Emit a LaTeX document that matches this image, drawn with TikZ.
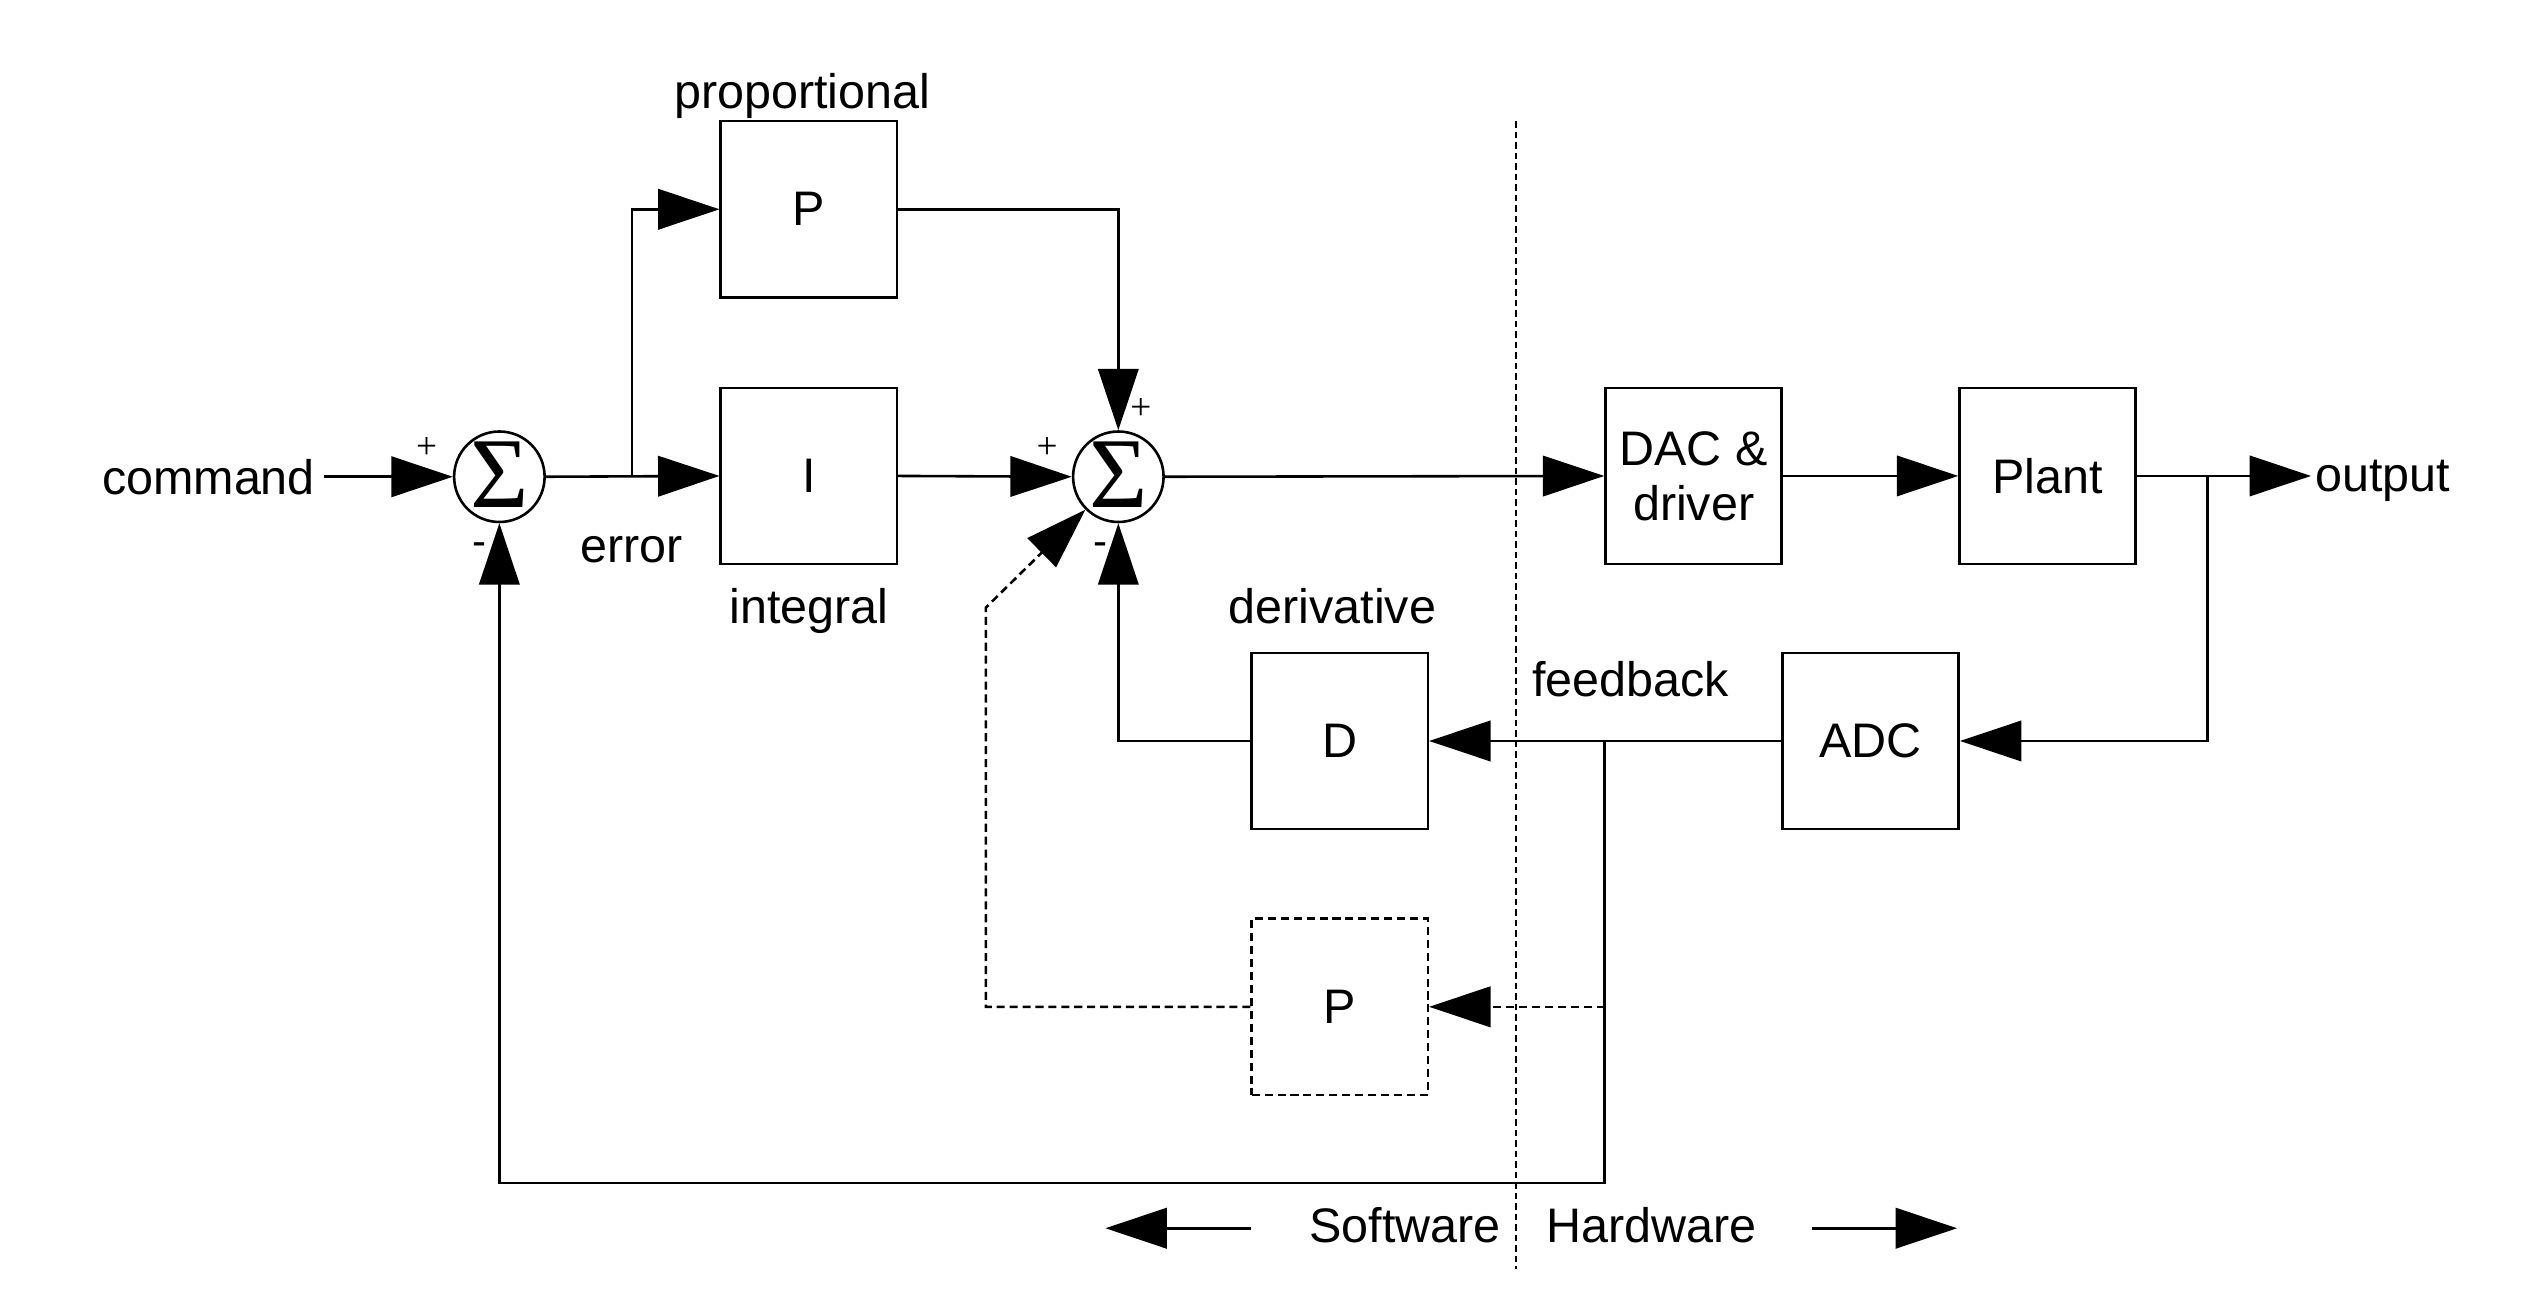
\documentclass[tikz,border=0pt]{standalone}
\usepackage{fontspec}
\setmainfont{Liberation Sans}
\newfontfamily\serifsym{Liberation Serif}
\usetikzlibrary{arrows.meta}
\begin{document}
\begin{tikzpicture}[x=1pt,y=-1pt, line width=1.6pt,
  every node/.style={font=\fontsize{30}{34}\selectfont, inner sep=0pt},
  blk/.style={draw, minimum width=109pt, minimum height=109pt},
  sumnode/.style={draw, circle, minimum size=56pt},
  sigma/.style={font=\serifsym\fontsize{62}{64}\selectfont},
  arr/.style={-{Triangle[length=38pt,width=25pt]}},
  dsh/.style={dash pattern=on 5pt off 3pt},
  sgn/.style={font=\serifsym\fontsize{23}{24}\selectfont},
  mns/.style={font=\fontsize{26}{26}\selectfont},
  lbl/.style={anchor=base}]
\useasboundingbox (0,0) rectangle (1568,811);
\fill[white] (0,0) rectangle (1568,811);

% divider
\draw[line width=1.1pt, dash pattern=on 4pt off 2.5pt] (938,75) -- (938,785);

% blocks
\node[sumnode] (s1) at (309,295) {};
\node[sumnode] (s2) at (692,295) {};
\node[sigma] (sg1) at ([yshift=1pt]s1.center) {Σ};
\node[sigma] (sg2) at ([yshift=1pt]s2.center) {Σ};
\node[blk] (Pb) at (500.5,129.5) {P};
\node[blk] (Ib) at (500.5,294.5) {I};
\node[blk, align=center] (dac) at (1048,294.5) {DAC \&\\driver};
\node[blk] (plant) at (1267,294.5) {Plant};
\node[blk] (D) at (829,458.5) {D};
\node[blk] (adc) at (1157.5,458.5) {ADC};
\node[blk, dsh] (P2) at (829,623) {P};

% labels
\node[lbl] (cmd) at (129,306) {command};
\node[lbl] (prop) at (496.5,67) {proportional};
\node[lbl] (err) at (391,348) {error};
\node[lbl] (intg) at (500.5,386) {integral};
\node[lbl] (der) at (824.5,386) {derivative};
\node[lbl] (fb) at (1009,431) {feedback};
\node[lbl, anchor=base west] (out) at (1432,304) {output};
\node[lbl] (sw) at (869.5,769) {Software};
\node[lbl] (hw) at (1022,769) {Hardware};

% signs
\node[sgn] (p1) at (264,277) {+};
\node[mns] (m1) at (297,340) {-};
\node[sgn] (p2) at (648,277) {+};
\node[sgn] (p3) at (706,253) {+};
\node[mns] (m2) at (681,340) {-};

% connectors
\draw[arr] ([xshift=5pt]cmd.east |- s1.west) -- (s1.west);
\draw[arr] (s1.east) -- (Ib.west);
\coordinate (br1) at (391,295);
\draw[arr] (br1) |- (Pb.west);
\draw[arr] (Pb.east) -| (s2.north);
\draw[arr] (Ib.east) -- (s2.west);
\draw[arr] (s2.east) -- (dac.west);
\draw[arr] (dac.east) -- (plant.west);
\draw[arr] (plant.east) -- ([xshift=-2pt]out.west |- plant.east);
\coordinate (br2) at (1366,294.5);
\draw[arr] (br2) |- (adc.east);
\draw[arr] (adc.west) -- (D.east);
\coordinate (br3) at (993,458.5);
\coordinate (bl) at (993,732);
\draw[arr] (br3) -- (bl) -| (s1.south);
\draw[arr] (D.west) -| (s2.south);
\coordinate (br4) at (993,623);
\draw[arr,dsh] (br4) -- (P2.east);
\coordinate (bend) at (610,376);
\draw[arr,dsh] (P2.west) -| (bend) -- (s2.south west);

% software / hardware arrows
\coordinate (la) at (774,760);
\coordinate (lt) at (684,760);
\coordinate (ra) at (1121,760);
\coordinate (rt) at (1211,760);
\draw[arr] (la) -- (lt);
\draw[arr] (ra) -- (rt);
\end{tikzpicture}
\end{document}
